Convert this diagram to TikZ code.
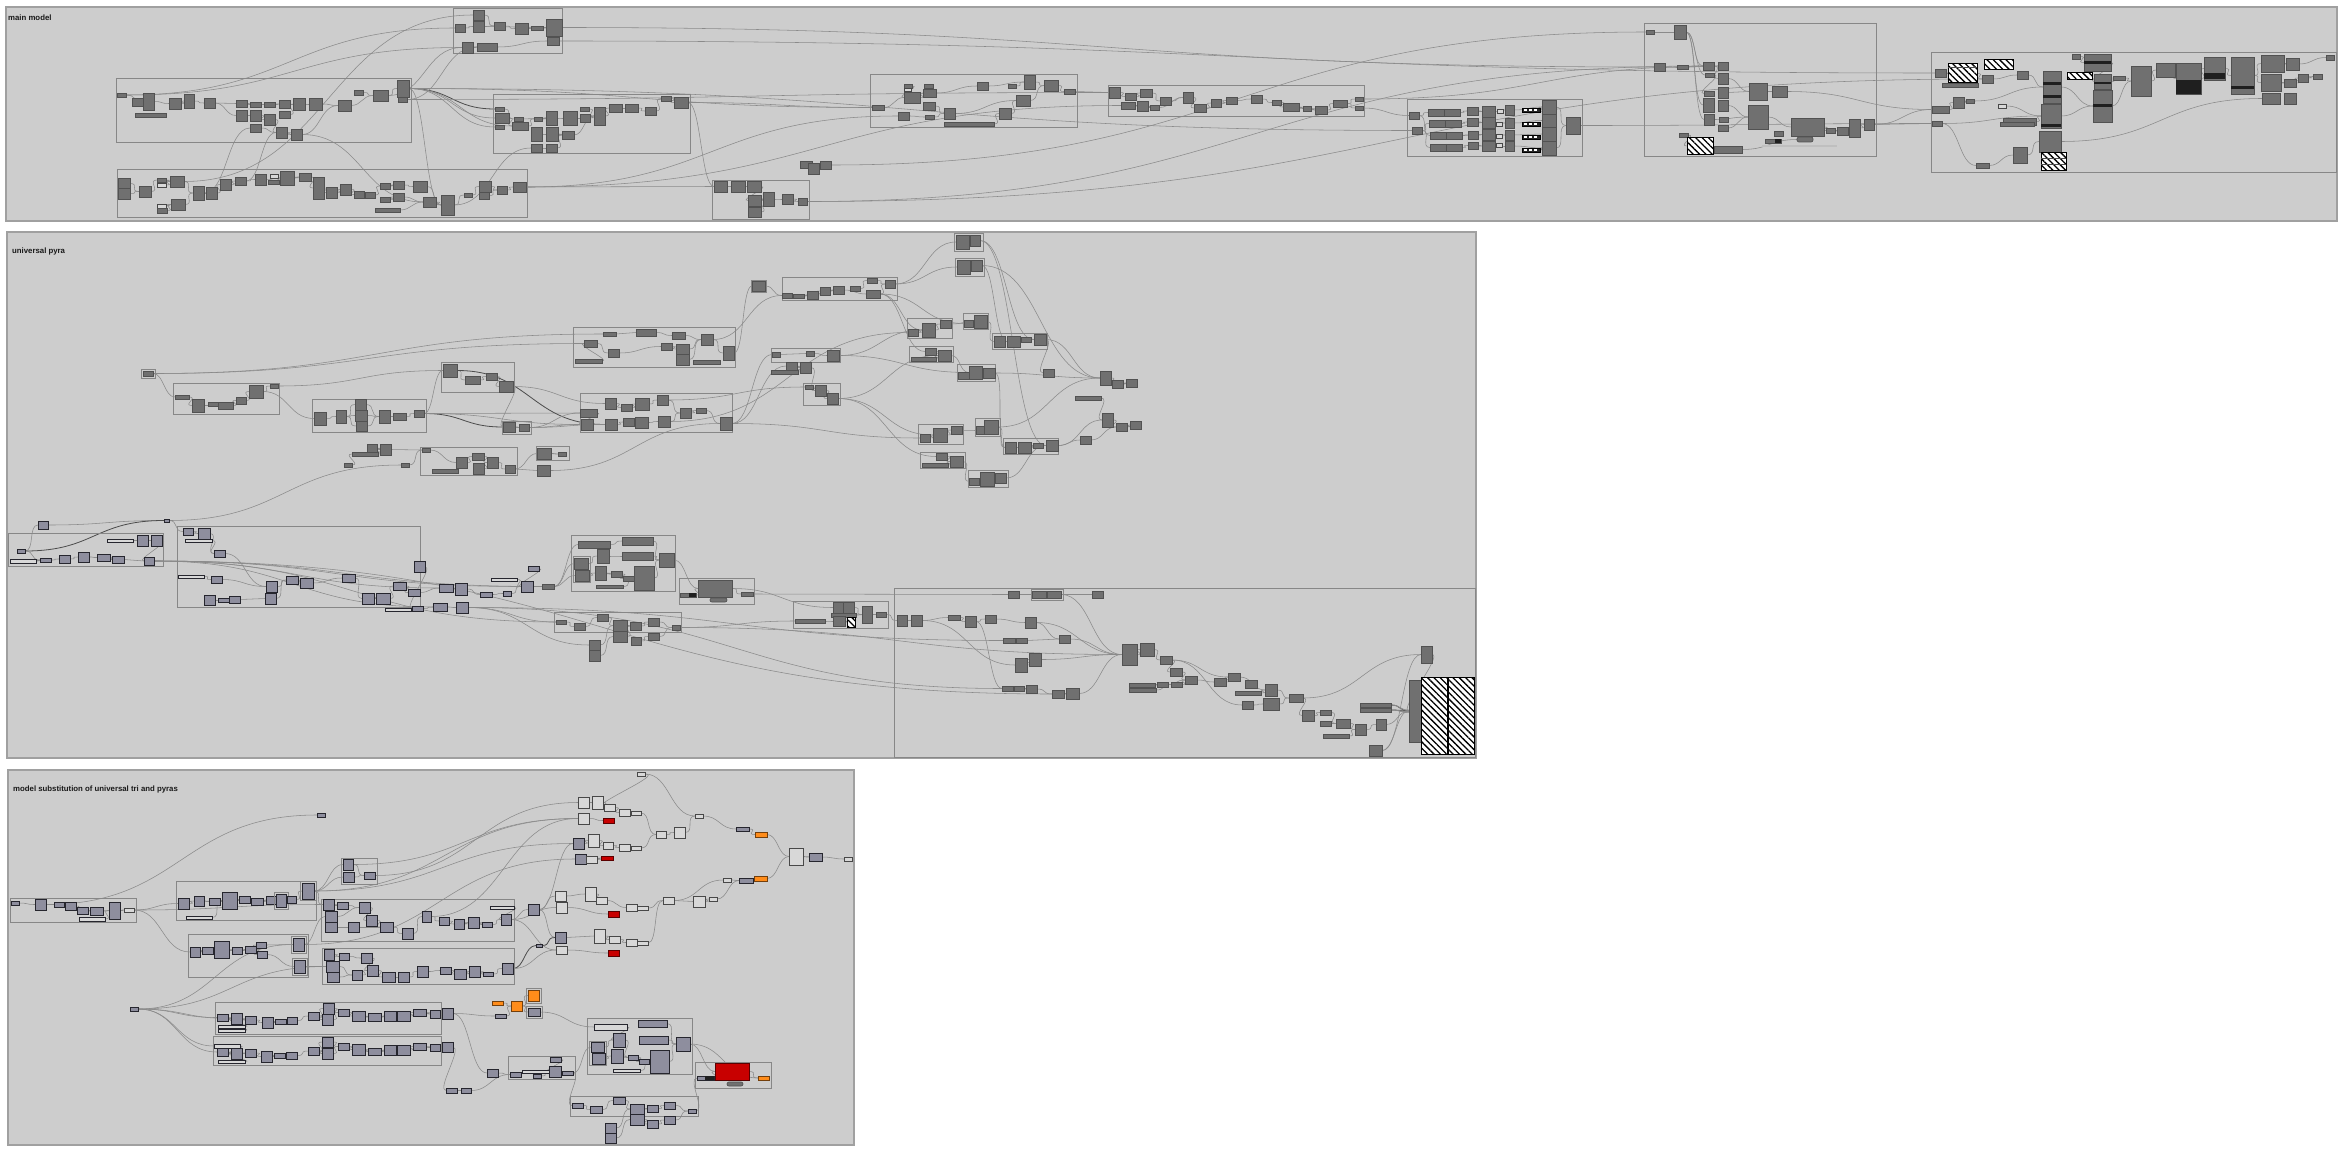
\documentclass[tikz,border=0pt]{standalone}
\usepackage{fontspec}
\setmainfont{Liberation Sans}
\usetikzlibrary{patterns.meta,calc}
\definecolor{pfill}{RGB}{205,205,205}
\definecolor{pedge}{RGB}{160,160,160}
\definecolor{gedge}{RGB}{135,135,135}
\definecolor{cfill}{RGB}{112,112,112}
\definecolor{cedge}{RGB}{82,82,82}
\definecolor{bfill}{RGB}{142,142,158}
\definecolor{bedge}{RGB}{38,38,46}
\definecolor{lfill}{RGB}{216,216,216}
\definecolor{ledge}{RGB}{72,72,72}
\definecolor{rfill}{RGB}{200,0,0}
\definecolor{ofill}{RGB}{255,140,26}
\definecolor{wcol}{RGB}{138,138,138}
\pgfdeclarelayer{panels}
\pgfdeclarelayer{wires}
\pgfsetlayers{panels,wires,main}
\tikzset{
  comp/.style={anchor=north west, inner sep=0pt, outer sep=0pt, draw=cedge, fill=cfill, line width=0.7pt},
  cb/.style={draw=bedge, fill=bfill},
  cl/.style={draw=ledge, fill=lfill},
  cbl/.style={draw=bedge, fill=lfill},
  cr/.style={draw=rfill!45!black, fill=rfill},
  co/.style={draw=ofill!45!black, fill=ofill},
  cdk/.style={draw=black, fill=black!85},
  cround/.style={rounded corners=2pt},
  chat/.style={draw=black, line width=1pt, preaction={fill=white}, pattern={Lines[angle=-45,distance=4.5pt,line width=1.3pt]}},
  grp/.style={draw=gedge, line width=0.9pt},
  panel/.style={draw=pedge, fill=pfill, line width=1.3pt},
  wire/.style={draw=wcol, line width=0.55pt},
  dwire/.style={draw=black!70, line width=0.8pt},
  lbl/.style={anchor=west, inner sep=0pt, font=\fontsize{7.8}{9}\selectfont\bfseries, text=black!90}
}
\newcommand\Cm[6][]{\node[comp,#1,minimum width=#5pt,minimum height=#6pt] (#2) at (#3,#4) {};}
\newcommand\Wp[3][wire]{\draw[#1] let \p1=(#2), \p2=(#3), \n1={max(0.5*abs(\x2-\x1),10)} in (\p1) .. controls +(\n1,0) and +(-\n1,0) .. (\p2);}
\newcommand\Wr[3][wire]{\Wp[#1]{#2.east}{#3.west}}
\newcommand\Gr[4]{\draw[grp] (#1,#2) rectangle (#3,#4);}
\newcommand\Sb[4]{\fill[black!88] (#1,#2) rectangle (#3,#4);}
\newcommand\Wc[2]{\fill[white] (#1+2,#2+1) rectangle (#1+5,#2+3); \fill[white] (#1+7,#2+1) rectangle (#1+10,#2+3); \fill[white] (#1+12,#2+1) rectangle (#1+15,#2+3);}
\begin{document}
\begin{tikzpicture}[x=1pt,y=-1pt]
\useasboundingbox (0,0) rectangle (2347,1153);
\begin{pgfonlayer}{panels}
\fill[white] (0,0) rectangle (2347,1153);
\draw[panel] (6,7) rectangle (2337,221);
\draw[panel] (7,232) rectangle (1476,758);
\draw[panel] (8,770) rectangle (854,1145);
\end{pgfonlayer}
\node[lbl] (lab1) at (8,18) {main model};
\node[lbl] (lab2) at (12,251) {universal pyra};
\node[lbl] (lab3) at (13,789) {model substitution of universal tri and pyras};

% ================= MAIN MODEL =================
\Gr{453}{8}{562}{53}
\Cm{m1}{473}{10}{11}{10}
\Cm{m2}{455}{24}{10}{8}
\Cm{m3}{473}{21}{11}{11}
\Cm{m4}{494}{22}{11}{8}
\Cm{m5}{515}{23}{13}{11}
\Cm{m6}{531}{26}{12}{4}
\Cm{m7}{546}{19}{16}{17}
\Cm{m8}{547}{37}{12}{8}
\Cm{m9}{462}{42}{11}{11}
\Cm{m10}{477}{43}{20}{8}
\Gr{116}{78}{411}{142}
\Cm{m11}{117}{93}{9}{4}
\Cm{m12}{132}{98}{11}{8}
\Cm{m13}{143}{93}{11}{17}
\Cm{m14}{135}{113}{31}{4}
\Cm{m15}{169}{98}{12}{11}
\Cm{m16}{184}{94}{10}{14}
\Cm{m17}{204}{98}{11}{10}
\Cm{m18}{236}{100}{11}{7}
\Cm{m19}{250}{102}{11}{5}
\Cm{m20}{264}{102}{11}{5}
\Cm{m21}{279}{100}{11}{8}
\Cm{m22}{293}{98}{12}{12}
\Cm{m23}{309}{98}{13}{12}
\Cm{m24}{236}{110}{11}{11}
\Cm{m25}{250}{110}{11}{11}
\Cm{m26}{264}{114}{11}{11}
\Cm{m27}{279}{111}{11}{7}
\Cm{m28}{250}{124}{11}{8}
\Cm{m29}{276}{127}{11}{11}
\Cm{m30}{291}{129}{11}{11}
\Cm{m31}{338}{100}{13}{11}
\Cm{m32}{354}{90}{9}{5}
\Cm{m33}{373}{90}{15}{11}
\Cm{m34}{397}{80}{12}{17}
\Cm{m35}{398}{97}{9}{5}
\Gr{493}{94}{690}{153}
\Cm{m36}{495}{107}{9}{4}
\Cm{m37}{495}{113}{14}{10}
\Cm{m38}{495}{125}{9}{4}
\Cm{m39}{512}{122}{16}{8}
\Cm{m40}{514}{117}{9}{4}
\Cm{m41}{534}{117}{8}{4}
\Cm{m42}{546}{111}{11}{14}
\Cm{m43}{563}{111}{14}{14}
\Cm{m44}{580}{114}{10}{8}
\Cm{m45}{580}{107}{9}{4}
\Cm{m46}{594}{107}{11}{18}
\Cm{m47}{609}{104}{13}{8}
\Cm{m48}{625}{104}{13}{8}
\Cm{m49}{645}{107}{11}{8}
\Cm{m50}{661}{96}{10}{5}
\Cm{m51}{674}{97}{14}{11}
\Cm{m52}{531}{127}{11}{14}
\Cm{m53}{546}{127}{12}{14}
\Cm{m54}{562}{131}{12}{8}
\Cm{m55}{531}{144}{11}{8}
\Cm{m56}{546}{144}{11}{8}
\Gr{117}{169}{527}{217}
\Cm{m57}{118}{178}{12}{11}
\Cm{m58}{118}{188}{12}{11}
\Cm{m59}{139}{186}{12}{11}
\Cm{m60}{157}{178}{9}{4}
\Cm[cl]{m61}{157}{183}{9}{4}
\Cm{m62}{170}{176}{14}{11}
\Cm[cl]{m63}{157}{204}{9}{4}
\Cm{m64}{157}{208}{10}{5}
\Cm{m65}{171}{199}{14}{11}
\Cm{m66}{193}{186}{11}{14}
\Cm{m67}{206}{187}{11}{12}
\Cm{m68}{220}{179}{11}{11}
\Cm{m69}{235}{177}{11}{8}
\Cm{m70}{255}{174}{11}{11}
\Cm[cl]{m71}{270}{174}{8}{4}
\Cm{m72}{268}{180}{11}{4}
\Cm{m73}{280}{171}{14}{14}
\Cm{m74}{299}{173}{12}{8}
\Cm{m75}{313}{177}{11}{22}
\Cm{m76}{326}{187}{11}{11}
\Cm{m77}{340}{184}{11}{11}
\Cm{m78}{354}{191}{10}{7}
\Cm{m79}{365}{192}{10}{6}
\Cm{m80}{380}{183}{10}{6}
\Cm{m81}{393}{181}{11}{8}
\Cm{m82}{413}{181}{14}{11}
\Cm{m83}{380}{197}{10}{5}
\Cm{m84}{393}{193}{11}{8}
\Cm{m85}{375}{208}{25}{4}
\Cm{m86}{423}{197}{13}{10}
\Cm{m87}{441}{195}{13}{20}
\Cm{m88}{464}{193}{8}{4}
\Cm{m89}{479}{181}{12}{11}
\Cm{m90}{479}{192}{10}{7}
\Cm{m91}{497}{186}{10}{8}
\Cm{m92}{513}{182}{13}{10}
\Gr{712}{180}{809}{219}
\Cm{m93}{714}{181}{13}{11}
\Cm{m94}{731}{181}{14}{11}
\Cm{m95}{747}{181}{14}{11}
\Cm{m96}{748}{195}{13}{11}
\Cm{m97}{763}{192}{11}{14}
\Cm{m98}{782}{194}{11}{10}
\Cm{m99}{748}{207}{13}{10}
\Cm{m100}{798}{198}{9}{7}
\Cm{m101}{800}{161}{12}{7}
\Cm{m102}{808}{163}{11}{11}
\Cm{m103}{820}{161}{11}{8}
\Gr{870}{74}{1077}{127}
\Cm{m104}{872}{105}{12}{5}
\Cm{m105}{904}{84}{8}{4}
\Cm[cl]{m106}{904}{88}{7}{3}
\Cm{m107}{904}{92}{16}{11}
\Cm{m108}{924}{84}{9}{4}
\Cm{m109}{923}{89}{13}{8}
\Cm{m110}{923}{102}{12}{8}
\Cm{m111}{898}{112}{11}{8}
\Cm{m112}{925}{115}{9}{4}
\Cm{m113}{944}{108}{11}{11}
\Cm{m114}{977}{82}{11}{8}
\Cm{m115}{1008}{84}{8}{4}
\Cm{m116}{1024}{75}{11}{14}
\Cm{m117}{1044}{80}{14}{11}
\Cm{m118}{1016}{95}{14}{11}
\Cm{m119}{999}{108}{12}{11}
\Cm{m120}{1064}{89}{11}{5}
\Cm{m121}{944}{122}{50}{4}
\Gr{1108}{85}{1364}{116}
\Cm{m122}{1109}{87}{11}{11}
\Cm{m123}{1125}{93}{11}{7}
\Cm{m124}{1140}{89}{12}{8}
\Cm{m125}{1121}{102}{14}{7}
\Cm{m126}{1137}{101}{11}{10}
\Cm{m127}{1150}{105}{9}{5}
\Cm{m128}{1160}{97}{11}{8}
\Cm{m129}{1183}{92}{10}{11}
\Cm{m130}{1194}{104}{12}{8}
\Cm{m131}{1211}{99}{10}{8}
\Cm{m132}{1226}{97}{11}{7}
\Cm{m133}{1251}{95}{11}{8}
\Cm{m134}{1272}{100}{9}{5}
\Cm{m135}{1283}{103}{16}{8}
\Cm{m136}{1303}{106}{8}{5}
\Cm{m137}{1315}{106}{12}{8}
\Cm{m138}{1333}{100}{14}{7}
\Cm{m139}{1355}{97}{8}{4}
\Cm{m140}{1355}{106}{8}{4}
\Gr{1407}{99}{1582}{156}
\Cm{m141}{1409}{112}{10}{7}
\Cm{m142}{1412}{127}{10}{7}
\Cm{m143}{1428}{109}{32}{7}
\Cm{m144}{1429}{120}{32}{7}
\Cm{m145}{1430}{132}{32}{7}
\Cm{m146}{1430}{144}{32}{7}
\draw[cedge,line width=0.6pt] (1444,109) -- (1444,116) (1445,120) -- (1445,127) (1446,132) -- (1446,139) (1446,144) -- (1446,151);
\Cm{m147}{1467}{107}{11}{8}
\Cm{m148}{1467}{118}{11}{8}
\Cm{m149}{1468}{131}{10}{8}
\Cm{m150}{1468}{142}{10}{7}
\Cm{m151}{1482}{106}{13}{11}
\Cm{m152}{1482}{117}{13}{11}
\Cm{m153}{1482}{129}{13}{11}
\Cm{m154}{1482}{141}{13}{10}
\Cm[cl]{m155}{1497}{109}{6}{4}
\Cm[cl]{m156}{1496}{122}{6}{4}
\Cm[cl]{m157}{1496}{134}{6}{4}
\Cm[cl]{m158}{1496}{143}{6}{4}
\Cm{m159}{1505}{105}{9}{10}
\Cm{m160}{1505}{118}{9}{10}
\Cm{m161}{1505}{130}{9}{10}
\Cm{m162}{1505}{141}{9}{10}
\Cm[cdk]{m163}{1522}{108}{18}{4}
\Cm[cdk]{m164}{1522}{122}{18}{4}
\Cm[cdk]{m165}{1522}{135}{18}{4}
\Cm[cdk]{m166}{1522}{148}{18}{4}
\Wc{1522}{108}\Wc{1522}{122}\Wc{1522}{135}\Wc{1522}{148}
\Cm{m167}{1542}{100}{14}{14}
\Cm{m168}{1542}{114}{14}{13}
\Cm{m169}{1542}{127}{14}{14}
\Cm{m170}{1542}{141}{14}{14}
\Cm{m171}{1566}{117}{14}{17}
\Gr{1644}{23}{1876}{156}
\Cm{m172}{1646}{30}{8}{4}
\Cm{m173}{1674}{25}{12}{14}
\Cm{m174}{1654}{63}{11}{8}
\Cm{m175}{1677}{65}{11}{4}
\Cm{m176}{1703}{62}{11}{8}
\Cm{m177}{1718}{62}{10}{8}
\Cm{m178}{1705}{73}{9}{4}
\Cm{m179}{1718}{73}{10}{11}
\Cm{m180}{1704}{91}{10}{5}
\Cm{m181}{1718}{87}{10}{11}
\Cm{m182}{1703}{98}{11}{14}
\Cm{m183}{1718}{100}{10}{11}
\Cm{m184}{1704}{114}{10}{11}
\Cm{m185}{1719}{117}{9}{5}
\Cm{m186}{1718}{125}{10}{6}
\Cm{m187}{1749}{83}{18}{17}
\Cm{m188}{1772}{86}{15}{11}
\Cm{m189}{1748}{105}{20}{24}
\Cm{m190}{1679}{133}{9}{4}
\Cm{m191}{1774}{131}{9}{5}
\Cm{m192}{1765}{139}{16}{4}
\Cm[cround]{m193}{1797}{137}{16}{5}
\Cm{m194}{1791}{118}{33}{18}
\Cm{m195}{1826}{128}{9}{5}
\Cm{m196}{1837}{127}{11}{8}
\Cm{m197}{1849}{119}{11}{18}
\Cm{m198}{1864}{119}{10}{11}
\Cm[chat]{m199}{1687}{138}{26}{16}
\Cm{m200}{1714}{146}{28}{7}
\fill[black!25] (1762,145) rectangle (1837,147);
\Gr{1931}{52}{2336}{172}
\Cm{m201}{1935}{69}{11}{8}
\Cm[chat]{m202}{1948}{64}{29}{19}
\Cm{m203}{1942}{83}{36}{4}
\Cm[chat]{m204}{1984}{60}{29}{10}
\Cm{m205}{1982}{75}{11}{8}
\Cm{m206}{2017}{71}{11}{8}
\Cm{m207}{2072}{54}{8}{5}
\Cm{m208}{2084}{54}{27}{17}
\Cm[chat]{m209}{2067}{73}{25}{7}
\Cm{m210}{2043}{71}{18}{32}
\Cm{m211}{2094}{74}{17}{15}
\Cm{m212}{2113}{76}{12}{4}
\Cm{m213}{2093}{90}{19}{32}
\Cm{m214}{2131}{66}{20}{30}
\Cm{m215}{2156}{63}{19}{14}
\Cm{m216}{2176}{63}{25}{31}
\Cm{m217}{2204}{57}{21}{23}
\Cm{m218}{2231}{57}{23}{37}
\Cm{m219}{2261}{55}{23}{17}
\Cm{m220}{2286}{58}{13}{12}
\Cm{m221}{2261}{74}{20}{17}
\Cm{m222}{2284}{79}{12}{8}
\Cm{m223}{2298}{74}{10}{8}
\Cm{m224}{2313}{74}{9}{5}
\Cm{m225}{2326}{55}{8}{5}
\Cm{m226}{2262}{93}{18}{11}
\Cm{m227}{2284}{93}{12}{11}
\Cm{m228}{1932}{106}{17}{7}
\Cm{m229}{1953}{97}{11}{11}
\Cm{m230}{1966}{99}{8}{4}
\Cm{m231}{1932}{121}{10}{5}
\Cm[cl]{m232}{1998}{104}{8}{4}
\Cm{m233}{2003}{118}{33}{7}
\Cm{m234}{2000}{122}{34}{4}
\Cm{m235}{2041}{104}{20}{24}
\Cm{m236}{2039}{131}{22}{21}
\Cm[chat]{m237}{2041}{152}{25}{18}
\Cm{m238}{2013}{147}{14}{16}
\Cm{m239}{1976}{163}{13}{5}
\Sb{2084}{61}{2111}{64}
\Sb{2043}{82}{2061}{85}
\Sb{2043}{95}{2061}{98}
\Sb{2094}{82}{2111}{84}
\Sb{2093}{104}{2112}{107}
\Sb{2176}{80}{2201}{94}
\Sb{2204}{73}{2225}{79}
\Sb{2231}{86}{2254}{89}
\Sb{2041}{124}{2061}{127}
\Sb{1775}{139}{1781}{143}
\draw[black!70,line width=0.8pt] (1948,67) -- (1977,67);
\draw[black!70,line width=0.6pt] (2041,158) -- (2066,158) (2041,164) -- (2066,164);

% ================= UNIVERSAL PYRA =================
\Gr{141}{369}{155}{378}
\Cm{u1}{143}{371}{10}{5}
\Gr{173}{383}{279}{414}
\Cm{u2}{175}{395}{14}{4}
\Cm{u3}{192}{399}{12}{13}
\Cm{u4}{208}{402}{10}{4}
\Cm{u5}{218}{402}{15}{7}
\Cm{u6}{236}{397}{10}{7}
\Cm{u7}{249}{385}{14}{13}
\Cm{u8}{270}{384}{8}{4}
\Gr{441}{362}{514}{392}
\Cm{u9}{443}{364}{14}{13}
\Cm{u10}{465}{376}{15}{8}
\Cm{u11}{486}{373}{11}{7}
\Cm{u12}{499}{381}{14}{11}
\Gr{312}{399}{426}{432}
\Cm{u13}{314}{412}{12}{13}
\Cm{u14}{336}{410}{10}{13}
\Cm{u15}{355}{399}{11}{11}
\Cm{u16}{355}{410}{12}{11}
\Cm{u17}{356}{421}{11}{10}
\Cm{u18}{379}{410}{11}{13}
\Cm{u19}{393}{413}{13}{7}
\Cm{u20}{414}{410}{10}{7}
\Gr{573}{327}{735}{367}
\Cm{u21}{603}{332}{13}{4}
\Cm{u22}{636}{329}{20}{7}
\Cm{u23}{672}{332}{13}{7}
\Cm{u24}{584}{340}{13}{7}
\Cm{u25}{608}{349}{11}{8}
\Cm{u26}{661}{343}{11}{7}
\Cm{u27}{676}{344}{13}{10}
\Cm{u28}{676}{354}{13}{11}
\Cm{u29}{701}{334}{12}{11}
\Cm{u30}{723}{346}{11}{14}
\Cm{u31}{575}{359}{27}{4}
\Cm{u32}{693}{360}{27}{4}
\Gr{580}{393}{732}{432}
\Cm{u33}{605}{398}{11}{11}
\Cm{u34}{621}{404}{11}{7}
\Cm{u35}{635}{398}{14}{12}
\Cm{u36}{657}{395}{11}{10}
\Cm{u37}{580}{409}{17}{8}
\Cm{u38}{581}{419}{12}{11}
\Cm{u39}{605}{419}{12}{11}
\Cm{u40}{623}{418}{11}{8}
\Cm{u41}{635}{417}{13}{11}
\Cm{u42}{658}{416}{12}{11}
\Cm{u43}{680}{408}{11}{10}
\Cm{u44}{696}{408}{10}{5}
\Cm{u45}{720}{417}{12}{13}
\Gr{502}{421}{531}{434}
\Cm{u46}{503}{422}{12}{10}
\Cm{u47}{519}{424}{10}{7}
\Cm{u48}{367}{444}{10}{8}
\Cm{u49}{380}{444}{11}{11}
\Cm{u50}{352}{452}{26}{4}
\Cm{u51}{344}{463}{8}{4}
\Cm{u52}{401}{463}{8}{4}
\Gr{420}{447}{517}{475}
\Cm{u53}{422}{448}{8}{4}
\Cm{u54}{456}{457}{11}{11}
\Cm{u55}{472}{453}{12}{7}
\Cm{u56}{473}{463}{11}{11}
\Cm{u57}{487}{457}{11}{11}
\Cm{u58}{505}{465}{10}{8}
\Cm{u59}{432}{469}{26}{4}
\Gr{536}{446}{569}{460}
\Cm{u60}{537}{448}{14}{11}
\Cm{u61}{558}{452}{8}{4}
\Cm{u62}{537}{465}{13}{11}
\Gr{751}{280}{766}{292}
\Cm{u63}{752}{281}{13}{10}
\Gr{782}{277}{897}{300}
\Cm{u64}{782}{293}{10}{5}
\Cm{u65}{793}{294}{11}{4}
\Cm{u66}{807}{291}{11}{8}
\Cm{u67}{820}{287}{10}{8}
\Cm{u68}{833}{286}{11}{8}
\Cm{u69}{850}{286}{10}{5}
\Cm{u70}{866}{290}{14}{8}
\Cm{u71}{867}{278}{10}{5}
\Cm{u72}{885}{280}{10}{8}
\Gr{954}{233}{983}{251}
\Cm{u73}{956}{235}{13}{14}
\Cm{u74}{970}{235}{10}{11}
\Gr{955}{258}{984}{276}
\Cm{u75}{957}{260}{13}{14}
\Cm{u76}{971}{260}{11}{11}
\Gr{907}{318}{952}{338}
\Cm{u77}{908}{329}{10}{7}
\Cm{u78}{922}{323}{13}{14}
\Cm{u79}{940}{320}{11}{8}
\Gr{963}{313}{988}{329}
\Cm{u80}{964}{320}{9}{7}
\Cm{u81}{974}{315}{13}{13}
\Gr{992}{333}{1047}{349}
\Cm{u82}{994}{336}{11}{11}
\Cm{u83}{1007}{336}{13}{11}
\Cm{u84}{1021}{337}{10}{5}
\Cm{u85}{1034}{334}{12}{11}
\Gr{771}{348}{840}{362}
\Cm{u86}{772}{352}{8}{5}
\Cm{u87}{806}{351}{8}{5}
\Cm{u88}{827}{350}{12}{11}
\Cm{u89}{786}{362}{11}{8}
\Cm{u90}{800}{362}{11}{11}
\Cm{u91}{771}{370}{27}{4}
\Gr{909}{346}{953}{362}
\Cm{u92}{925}{348}{11}{7}
\Cm{u93}{938}{350}{13}{11}
\Cm{u94}{911}{357}{25}{4}
\Gr{957}{364}{995}{381}
\Cm{u95}{958}{372}{11}{7}
\Cm{u96}{969}{366}{13}{13}
\Cm{u97}{983}{368}{12}{10}
\Cm{u98}{1043}{369}{11}{8}
\Gr{803}{383}{840}{405}
\Cm{u99}{805}{385}{8}{4}
\Cm{u100}{815}{385}{11}{11}
\Cm{u101}{827}{393}{11}{11}
\Cm{u102}{1100}{371}{11}{14}
\Cm{u103}{1112}{380}{11}{8}
\Cm{u104}{1126}{379}{11}{8}
\Cm{u105}{1075}{396}{26}{4}
\Cm{u106}{1102}{413}{11}{14}
\Cm{u107}{1116}{423}{11}{8}
\Cm{u108}{1130}{421}{11}{8}
\Cm{u109}{1080}{436}{11}{8}
\Gr{918}{424}{963}{444}
\Cm{u110}{920}{434}{10}{8}
\Cm{u111}{933}{428}{14}{14}
\Cm{u112}{951}{426}{11}{8}
\Gr{975}{418}{1000}{436}
\Cm{u113}{976}{426}{9}{8}
\Cm{u114}{984}{420}{14}{14}
\Gr{1003}{438}{1058}{454}
\Cm{u115}{1005}{442}{11}{11}
\Cm{u116}{1018}{442}{13}{11}
\Cm{u117}{1033}{443}{10}{5}
\Cm{u118}{1046}{440}{12}{11}
\Gr{920}{452}{965}{468}
\Cm{u119}{936}{453}{11}{7}
\Cm{u120}{950}{456}{13}{11}
\Cm{u121}{922}{463}{26}{4}
\Gr{968}{470}{1008}{487}
\Cm{u122}{969}{478}{10}{7}
\Cm{u123}{980}{472}{14}{14}
\Cm{u124}{995}{473}{11}{10}
% lower pyra
\Cm[cb]{u125}{38}{521}{10}{8}
\Cm[cb]{u126}{164}{519}{5}{3}
\Gr{8}{533}{163}{566}
\Cm[cb]{u127}{17}{549}{8}{4}
\Cm[cbl]{u128}{10}{559}{26}{4}
\Cm[cb]{u129}{40}{558}{11}{4}
\Cm[cb]{u130}{59}{555}{11}{8}
\Cm[cb]{u131}{78}{552}{11}{10}
\Cm[cb]{u132}{97}{554}{13}{7}
\Cm[cb]{u133}{112}{556}{12}{7}
\Cm[cb]{u134}{144}{557}{10}{8}
\Cm[cbl]{u135}{107}{539}{26}{3}
\Cm[cb]{u136}{137}{535}{11}{11}
\Cm[cb]{u137}{151}{535}{11}{11}
\Gr{177}{526}{420}{607}
\Cm[cb]{u138}{183}{528}{10}{7}
\Cm[cb]{u139}{198}{528}{12}{11}
\Cm[cbl]{u140}{185}{539}{27}{3}
\Cm[cb]{u141}{214}{550}{11}{7}
\Cm[cbl]{u142}{178}{575}{26}{3}
\Cm[cb]{u143}{211}{576}{11}{7}
\Cm[cb]{u144}{204}{595}{11}{10}
\Cm[cb]{u145}{218}{598}{11}{4}
\Cm[cb]{u146}{229}{596}{11}{7}
\Cm[cb]{u147}{266}{581}{11}{11}
\Cm[cb]{u148}{265}{593}{11}{11}
\Cm[cb]{u149}{286}{576}{12}{8}
\Cm[cb]{u150}{300}{578}{13}{10}
\Cm[cb]{u151}{342}{574}{13}{8}
\Cm[cb]{u152}{362}{593}{12}{11}
\Cm[cb]{u153}{376}{593}{14}{11}
\Cm[cb]{u154}{393}{582}{13}{8}
\Cm[cb]{u155}{408}{589}{12}{7}
\Cm[cb]{u156}{414}{561}{11}{11}
\Cm[cbl]{u157}{385}{608}{26}{3}
\Cm[cb]{u158}{412}{606}{11}{5}
\Cm[cb]{u159}{433}{603}{14}{8}
\Cm[cb]{u160}{456}{602}{12}{11}
\Cm[cb]{u161}{439}{584}{14}{8}
\Cm[cb]{u162}{455}{583}{12}{12}
\Cm[cb]{u163}{480}{592}{12}{5}
\Cm[cb]{u164}{503}{591}{8}{5}
\Cm[cbl]{u165}{491}{578}{26}{3}
\Cm[cb]{u166}{521}{581}{12}{11}
\Cm[cb]{u167}{528}{566}{11}{5}
\Cm{u168}{542}{584}{12}{5}
\Gr{571}{535}{675}{591}
\Cm{u169}{578}{541}{32}{7}
\Cm{u170}{622}{537}{31}{8}
\Cm{u171}{622}{552}{31}{8}
\Gr{573}{556}{590}{582}
\Cm{u172}{574}{558}{14}{11}
\Cm{u173}{575}{570}{14}{11}
\Cm{u174}{597}{549}{12}{14}
\Cm{u175}{595}{566}{11}{14}
\Cm{u176}{611}{571}{11}{6}
\Cm{u177}{623}{576}{11}{5}
\Cm{u178}{634}{566}{20}{24}
\Cm{u179}{659}{553}{15}{14}
\Cm{u180}{596}{585}{27}{3}
\Gr{679}{578}{754}{604}
\Cm{u181}{680}{593}{16}{4}
\Sb{689}{593}{696}{597}
\Cm{u182}{698}{580}{34}{17}
\Cm[cround]{u183}{710}{598}{17}{4}
\Cm{u184}{741}{592}{12}{4}
\Gr{554}{612}{681}{632}
\Cm{u185}{556}{620}{10}{4}
\Cm{u186}{574}{623}{11}{7}
\Cm{u187}{597}{614}{11}{7}
\Cm{u188}{613}{620}{14}{11}
\Cm{u189}{613}{631}{14}{11}
\Cm{u190}{630}{622}{11}{8}
\Cm{u191}{648}{618}{11}{8}
\Cm{u192}{648}{633}{11}{7}
\Cm{u193}{631}{637}{10}{8}
\Cm{u194}{672}{625}{8}{5}
\Cm{u195}{589}{640}{11}{10}
\Cm{u196}{589}{650}{11}{11}
\Gr{793}{601}{888}{628}
\Cm{u197}{795}{619}{30}{4}
\Cm{u198}{833}{602}{10}{11}
\Cm{u199}{843}{602}{11}{11}
\Cm{u200}{831}{613}{25}{4}
\Cm{u201}{833}{616}{12}{10}
\Cm[chat]{u202}{847}{617}{8}{10}
\Cm{u203}{862}{606}{10}{17}
\Cm{u204}{876}{612}{10}{5}
\Gr{894}{588}{1475}{757}
\Cm{u205}{897}{615}{10}{11}
\Cm{u206}{911}{615}{11}{11}
\Cm{u207}{948}{615}{12}{5}
\Cm{u208}{965}{616}{11}{11}
\Cm{u209}{985}{615}{11}{8}
\Cm{u210}{1008}{591}{11}{7}
\Gr{1031}{589}{1063}{600}
\Cm{u211}{1032}{591}{14}{7}
\Cm{u211b}{1047}{591}{14}{7}
\Cm{u212}{1092}{591}{11}{7}
\Cm{u213}{1025}{617}{11}{11}
\Cm{u214}{1003}{638}{12}{5}
\Cm{u215}{1016}{638}{11}{5}
\Cm{u216}{1059}{635}{11}{8}
\Cm{u217}{1015}{658}{12}{14}
\Cm{u218}{1029}{653}{12}{13}
\Cm{u219}{1002}{686}{11}{5}
\Cm{u220}{1014}{686}{10}{5}
\Cm{u221}{1026}{685}{11}{8}
\Cm{u222}{1052}{690}{12}{8}
\Cm{u223}{1066}{688}{13}{11}
\Cm{u224}{1122}{644}{15}{21}
\Cm{u225}{1140}{643}{14}{13}
\Cm{u226}{1160}{656}{12}{8}
\Cm{u227}{1170}{668}{12}{8}
\Cm{u228}{1185}{676}{12}{8}
\Cm{u229}{1214}{678}{12}{8}
\Cm{u230}{1228}{673}{12}{8}
\Cm{u231}{1245}{680}{12}{8}
\Cm{u232}{1129}{683}{26}{4}
\Cm{u233}{1129}{688}{27}{4}
\Cm{u234}{1157}{682}{11}{5}
\Cm{u235}{1171}{682}{11}{5}
\Cm{u236}{1265}{684}{12}{12}
\Cm{u237}{1235}{691}{26}{4}
\Cm{u238}{1242}{701}{11}{8}
\Cm{u239}{1263}{698}{16}{12}
\Cm{u240}{1289}{694}{14}{8}
\Cm{u241}{1302}{710}{12}{11}
\Cm{u242}{1320}{710}{11}{5}
\Cm{u243}{1320}{721}{11}{5}
\Cm{u244}{1336}{719}{14}{9}
\Cm{u245}{1355}{724}{11}{11}
\Cm{u246}{1376}{719}{10}{11}
\Cm{u247}{1323}{734}{26}{4}
\Cm{u248}{1360}{703}{31}{4}
\Cm{u249}{1360}{708}{31}{4}
\Cm{u250}{1369}{745}{13}{11}
\Cm{u251}{1421}{646}{11}{17}
\Cm{u252}{1409}{680}{12}{62}
\Cm[chat]{u253}{1421}{677}{26}{77}
\Cm[chat]{u254}{1448}{677}{26}{77}

% ================= MODEL SUBSTITUTION =================
\Cm[cb]{s1}{317}{813}{8}{4}
\Gr{10}{898}{136}{922}
\Cm[cb]{s2}{11}{901}{8}{4}
\Cm[cb]{s3}{35}{899}{11}{11}
\Cm[cb]{s4}{54}{902}{10}{5}
\Cm[cb]{s5}{65}{902}{11}{8}
\Cm[cb]{s6}{77}{907}{11}{7}
\Cm[cb]{s7}{90}{907}{13}{8}
\Cm[cb]{s8}{109}{902}{11}{17}
\Cm[cl]{s9}{124}{908}{10}{4}
\Cm[cbl]{s10}{79}{917}{26}{4}
\Gr{176}{881}{316}{920}
\Cm[cb]{s11}{178}{898}{11}{11}
\Cm[cb]{s12}{194}{896}{10}{10}
\Cm[cb]{s13}{209}{898}{11}{7}
\Cm[cb]{s14}{222}{892}{15}{17}
\Cm[cb]{s15}{239}{896}{11}{7}
\Cm[cb]{s16}{251}{898}{12}{7}
\Cm[cb]{s17}{266}{896}{10}{8}
\Gr{274}{892}{288}{909}
\Cm[cb]{s18}{276}{894}{10}{13}
\Cm[cb]{s19}{287}{896}{9}{7}
\Gr{300}{881}{316}{900}
\Cm[cb]{s20}{302}{883}{12}{16}
\Cm[cbl]{s21}{186}{916}{26}{3}
\Gr{341}{858}{377}{884}
\Cm[cb]{s22}{343}{859}{10}{11}
\Cm[cb]{s23}{343}{872}{11}{10}
\Cm[cb]{s24}{364}{872}{11}{7}
\Gr{188}{934}{308}{977}
\Cm[cb]{s25}{190}{947}{10}{10}
\Cm[cb]{s26}{202}{947}{11}{7}
\Cm[cb]{s27}{214}{941}{15}{17}
\Cm[cb]{s28}{232}{947}{10}{7}
\Cm[cb]{s29}{245}{946}{11}{7}
\Cm[cb]{s30}{256}{942}{10}{6}
\Cm[cb]{s31}{257}{951}{10}{7}
\Gr{291}{936}{306}{953}
\Cm[cb]{s32}{293}{938}{11}{13}
\Gr{292}{958}{307}{975}
\Cm[cb]{s33}{294}{960}{11}{13}
\Gr{321}{899}{514}{941}
\Cm[cb]{s34}{323}{899}{11}{11}
\Cm[cb]{s35}{325}{911}{12}{11}
\Cm[cb]{s36}{325}{922}{12}{10}
\Cm[cb]{s37}{337}{902}{11}{7}
\Cm[cb]{s38}{359}{902}{11}{11}
\Cm[cb]{s39}{348}{922}{11}{10}
\Cm[cb]{s40}{366}{915}{11}{11}
\Cm[cb]{s41}{380}{922}{13}{10}
\Cm[cb]{s42}{402}{928}{11}{11}
\Cm[cb]{s43}{422}{911}{9}{11}
\Cm[cb]{s44}{439}{917}{10}{8}
\Cm[cb]{s45}{454}{919}{10}{10}
\Cm[cb]{s46}{468}{917}{11}{11}
\Cm[cb]{s47}{482}{922}{10}{5}
\Cm[cb]{s48}{501}{914}{10}{11}
\Cm[cbl]{s49}{490}{906}{24}{3}
\Cm[cb]{s50}{528}{904}{11}{11}
\Gr{322}{948}{514}{984}
\Cm[cb]{s51}{324}{949}{10}{11}
\Cm[cb]{s52}{339}{953}{10}{7}
\Cm[cb]{s53}{361}{953}{11}{10}
\Cm[cb]{s54}{326}{961}{13}{11}
\Cm[cb]{s55}{327}{972}{12}{10}
\Cm[cb]{s56}{352}{970}{10}{10}
\Cm[cb]{s57}{367}{965}{11}{11}
\Cm[cb]{s58}{382}{972}{13}{10}
\Cm[cb]{s59}{398}{972}{11}{10}
\Cm[cb]{s60}{417}{966}{11}{11}
\Cm[cb]{s61}{440}{967}{11}{7}
\Cm[cb]{s62}{454}{969}{12}{10}
\Cm[cb]{s63}{469}{966}{11}{11}
\Cm[cb]{s64}{483}{972}{10}{4}
\Cm[cb]{s65}{502}{963}{11}{11}
\Gr{215}{1002}{441}{1034}
\Cm[cb]{s66}{217}{1014}{11}{7}
\Cm[cb]{s67}{231}{1013}{11}{11}
\Cm[cb]{s68}{245}{1016}{11}{8}
\Cm[cb]{s69}{262}{1017}{11}{11}
\Cm[cb]{s70}{275}{1019}{11}{5}
\Cm[cb]{s71}{287}{1017}{10}{7}
\Cm[cb]{s72}{308}{1012}{11}{8}
\Cm[cb]{s73}{323}{1003}{11}{11}
\Cm[cb]{s74}{322}{1014}{11}{11}
\Cm[cb]{s75}{338}{1009}{11}{7}
\Cm[cb]{s76}{352}{1011}{13}{10}
\Cm[cb]{s77}{368}{1013}{13}{8}
\Cm[cb]{s78}{384}{1011}{12}{10}
\Cm[cb]{s79}{397}{1011}{13}{10}
\Cm[cb]{s80}{413}{1009}{13}{7}
\Cm[cb]{s81}{430}{1010}{10}{8}
\Cm[cb]{s82}{442}{1008}{11}{11}
\Cm[cbl]{s83}{218}{1025}{27}{3}
\Cm[cbl]{s84}{218}{1029}{27}{3}
\Gr{213}{1036}{441}{1065}
\Cm[cbl]{s85}{214}{1044}{26}{4}
\Cm[cb]{s86}{217}{1048}{11}{8}
\Cm[cb]{s87}{231}{1048}{11}{11}
\Cm[cb]{s88}{245}{1049}{11}{8}
\Cm[cb]{s89}{261}{1051}{11}{11}
\Cm[cb]{s90}{274}{1053}{11}{5}
\Cm[cb]{s91}{286}{1052}{11}{7}
\Cm[cb]{s92}{308}{1047}{11}{8}
\Cm[cb]{s93}{322}{1037}{11}{10}
\Cm[cb]{s94}{322}{1048}{11}{11}
\Cm[cb]{s95}{338}{1043}{11}{7}
\Cm[cb]{s96}{352}{1044}{13}{11}
\Cm[cb]{s97}{368}{1048}{13}{7}
\Cm[cb]{s98}{384}{1045}{12}{10}
\Cm[cb]{s99}{397}{1045}{13}{10}
\Cm[cb]{s100}{413}{1043}{13}{7}
\Cm[cb]{s101}{430}{1044}{10}{7}
\Cm[cb]{s102}{442}{1042}{11}{10}
\Cm[cbl]{s103}{218}{1060}{27}{3}
\Cm[cb]{s104}{130}{1007}{8}{4}
\Cm[cl]{s105}{637}{772}{8}{4}
\Cm[cl]{s106}{578}{797}{11}{11}
\Cm[cl]{s107}{592}{796}{11}{13}
\Cm[cl]{s108}{604}{804}{11}{7}
\Cm[cl]{s109}{578}{813}{11}{11}
\Cm[cr]{s110}{603}{818}{11}{5}
\Cm[cl]{s111}{619}{809}{11}{7}
\Cm[cl]{s112}{631}{811}{10}{4}
\Cm[cl]{s113}{656}{831}{10}{7}
\Cm[cl]{s114}{674}{827}{11}{11}
\Cm[cl]{s115}{695}{814}{8}{4}
\Cm[cb]{s116}{736}{827}{13}{4}
\Cm[co]{s117}{755}{832}{12}{5}
\Cm[cl]{s118}{789}{848}{14}{17}
\Cm[cb]{s119}{809}{853}{13}{8}
\Cm[cl]{s120}{844}{857}{8}{4}
\Cm[cb]{s121}{573}{838}{11}{11}
\Cm[cl]{s122}{588}{834}{11}{13}
\Cm[cl]{s123}{603}{842}{10}{7}
\Cm[cb]{s124}{575}{854}{11}{10}
\Cm[cl]{s125}{586}{856}{11}{7}
\Cm[cr]{s126}{601}{856}{12}{4}
\Cm[cl]{s127}{619}{844}{11}{7}
\Cm[cl]{s128}{631}{846}{10}{4}
\Cm[cl]{s129}{723}{878}{8}{4}
\Cm[cb]{s130}{739}{878}{14}{5}
\Cm[co]{s131}{754}{876}{13}{5}
\Cm[cl]{s132}{555}{891}{11}{10}
\Cm[cl]{s133}{585}{887}{11}{14}
\Cm[cl]{s134}{596}{897}{11}{7}
\Cm[cl]{s135}{556}{902}{11}{11}
\Cm[cr]{s136}{608}{911}{11}{6}
\Cm[cl]{s137}{626}{904}{11}{7}
\Cm[cl]{s138}{637}{906}{11}{4}
\Cm[cl]{s139}{663}{897}{11}{7}
\Cm[cl]{s140}{693}{896}{12}{11}
\Cm[cl]{s141}{709}{897}{8}{4}
\Cm[cb]{s142}{555}{932}{11}{11}
\Cm[cl]{s143}{594}{929}{11}{14}
\Cm[cl]{s144}{609}{936}{11}{7}
\Cm[cl]{s145}{556}{946}{11}{8}
\Cm[cb]{s146}{536}{944}{6}{3}
\Cm[cr]{s147}{608}{950}{11}{6}
\Cm[cl]{s148}{626}{939}{11}{7}
\Cm[cl]{s149}{637}{941}{11}{4}
\Cm[co]{s150}{492}{1001}{11}{4}
\Cm[co]{s151}{511}{1001}{11}{10}
\Gr{526}{988}{541}{1003}
\Cm[co]{s152}{528}{990}{11}{11}
\Gr{526}{1006}{542}{1018}
\Cm[cb]{s153}{528}{1008}{12}{8}
\Cm[cb]{s154}{495}{1014}{11}{4}
\Gr{508}{1056}{575}{1079}
\Cm[cb]{s155}{510}{1072}{11}{5}
\Cm[cbl]{s156}{522}{1070}{27}{3}
\Cm[cb]{s157}{533}{1074}{8}{4}
\Cm[cb]{s158}{550}{1057}{11}{5}
\Cm[cb]{s159}{549}{1066}{12}{11}
\Cm[cb]{s160}{562}{1071}{11}{4}
\Cm[cb]{s161}{487}{1069}{11}{8}
\Cm[cb]{s162}{446}{1088}{11}{5}
\Cm[cb]{s163}{461}{1088}{10}{5}
\Gr{587}{1018}{692}{1074}
\Cm[cbl]{s164}{594}{1024}{33}{6}
\Cm[cb]{s165}{638}{1020}{29}{7}
\Cm[cb]{s166}{639}{1036}{29}{8}
\Cm[cb]{s167}{676}{1037}{14}{14}
\Gr{589}{1041}{606}{1065}
\Cm[cb]{s168}{591}{1042}{13}{10}
\Cm[cb]{s169}{592}{1053}{13}{11}
\Cm[cb]{s170}{613}{1033}{12}{14}
\Cm[cb]{s171}{611}{1049}{12}{14}
\Cm[cb]{s172}{628}{1055}{10}{5}
\Cm[cb]{s173}{639}{1059}{10}{5}
\Cm[cb]{s174}{650}{1050}{19}{23}
\Cm[cbl]{s175}{613}{1069}{27}{3}
\Gr{695}{1062}{771}{1088}
\Cm[cr]{s176}{715}{1063}{34}{17}
\Cm[cb]{s177}{697}{1076}{17}{4}
\Sb{705}{1076}{714}{1080}
\Cm[co]{s178}{758}{1076}{11}{4}
\Cm[cround]{s179}{727}{1082}{16}{4}
\Gr{570}{1096}{698}{1116}
\Cm[cb]{s180}{572}{1103}{11}{5}
\Cm[cb]{s181}{590}{1106}{12}{7}
\Cm[cb]{s182}{613}{1097}{12}{7}
\Cm[cb]{s183}{630}{1104}{14}{10}
\Cm[cb]{s184}{630}{1114}{14}{11}
\Cm[cb]{s185}{647}{1105}{11}{7}
\Cm[cb]{s186}{664}{1102}{11}{7}
\Cm[cb]{s187}{647}{1120}{11}{8}
\Cm[cb]{s188}{664}{1116}{11}{8}
\Cm[cb]{s189}{688}{1109}{8}{4}
\Cm[cb]{s190}{605}{1123}{11}{10}
\Cm[cb]{s191}{605}{1133}{11}{10}

% ================= WIRES =================
\begin{pgfonlayer}{wires}
% main model
\Wr{m11}{m13}\Wr{m12}{m13}\Wr{m13}{m15}\Wr{m15}{m16}\Wr{m16}{m17}\Wr{m17}{m18}\Wr{m17}{m24}
\Wr{m18}{m19}\Wr{m19}{m20}\Wr{m20}{m21}\Wr{m21}{m22}\Wr{m22}{m23}\Wr{m23}{m31}\Wr{m24}{m25}
\Wr{m25}{m26}\Wr{m26}{m29}\Wr{m27}{m22}\Wr{m28}{m29}\Wr{m29}{m30}\Wr{m30}{m31}\Wr{m31}{m33}
\Wr{m32}{m33}\Wr{m33}{m34}
\Wr[dwire]{m34}{m36}\Wr{m34}{m37}\Wr{m34}{m38}\Wr{m34}{m39}\Wr{m34}{m104}\Wr{m34}{m142}\Wr{m35}{m122}
\Wr{m11}{m2}\Wr{m11}{m9}\Wr{m33}{m9}\Wr{m35}{m10}
\Wr{m2}{m3}\Wr{m1}{m4}\Wr{m3}{m4}\Wr{m4}{m5}\Wr{m5}{m6}\Wr{m6}{m7}\Wr{m9}{m10}\Wr{m10}{m8}\Wr{m3}{m7}
\Wr{m7}{m174}\Wr{m8}{m201}
\Wr{m36}{m40}\Wr{m37}{m39}\Wr{m39}{m41}\Wr{m40}{m42}\Wr{m41}{m42}\Wr{m42}{m43}\Wr{m43}{m44}
\Wr{m44}{m46}\Wr{m45}{m46}\Wr{m46}{m47}\Wr{m47}{m48}\Wr{m48}{m49}\Wr{m49}{m50}\Wr{m50}{m51}
\Wr{m53}{m54}\Wr{m52}{m53}\Wr{m54}{m46}\Wr{m55}{m56}\Wr{m56}{m54}
\Wr{m51}{m93}\Wr{m51}{m104}
\Wr{m57}{m59}\Wr{m58}{m59}\Wr{m59}{m60}\Wr{m60}{m62}\Wr{m61}{m62}\Wr{m62}{m66}\Wr{m63}{m65}
\Wr{m64}{m65}\Wr{m65}{m66}\Wr{m66}{m67}\Wr{m67}{m68}\Wr{m68}{m69}\Wr{m69}{m70}\Wr{m70}{m73}
\Wr{m72}{m73}\Wr{m73}{m74}\Wr{m74}{m75}\Wr{m75}{m76}\Wr{m76}{m77}\Wr{m77}{m78}\Wr{m78}{m79}
\Wr{m79}{m80}\Wr{m80}{m81}\Wr{m81}{m82}\Wr{m83}{m84}\Wr{m84}{m86}\Wr{m85}{m86}\Wr{m82}{m87}
\Wr{m86}{m87}\Wr{m87}{m88}\Wr{m88}{m89}\Wr{m89}{m91}\Wr{m90}{m91}\Wr{m91}{m92}\Wr{m92}{m93}
\Wr{m62}{m1}\Wr{m66}{m28}\Wr{m69}{m29}\Wr{m30}{m86}\Wr{m34}{m87}\Wr{m87}{m55}
\Wr{m92}{m111}\Wr{m92}{m125}
\Wr{m93}{m94}\Wr{m94}{m95}\Wr{m95}{m96}\Wr{m96}{m97}\Wr{m97}{m98}\Wr{m98}{m100}\Wr{m99}{m97}
\Wr{m100}{m176}\Wr{m100}{m205}\Wr{m103}{m172}\Wr{m102}{m103}\Wr{m101}{m102}
\Wr{m104}{m107}\Wr{m105}{m107}\Wr{m107}{m109}\Wr{m109}{m114}\Wr{m110}{m113}\Wr{m111}{m112}
\Wr{m112}{m113}\Wr{m113}{m118}\Wr{m114}{m116}\Wr{m115}{m116}\Wr{m116}{m117}\Wr{m117}{m120}
\Wr{m118}{m117}\Wr{m119}{m118}\Wr{m120}{m122}\Wr{m121}{m119}
\Wr{m122}{m123}\Wr{m123}{m124}\Wr{m124}{m128}\Wr{m125}{m126}\Wr{m126}{m127}\Wr{m127}{m129}
\Wr{m128}{m129}\Wr{m129}{m130}\Wr{m130}{m131}\Wr{m131}{m132}\Wr{m132}{m133}\Wr{m133}{m134}
\Wr{m134}{m135}\Wr{m135}{m136}\Wr{m136}{m137}\Wr{m137}{m138}\Wr{m138}{m139}\Wr{m138}{m140}
\Wr{m140}{m141}\Wr{m139}{m177}
\Wr{m141}{m143}\Wr{m142}{m144}\Wr{m141}{m145}\Wr{m142}{m146}\Wr{m143}{m147}\Wr{m144}{m148}
\Wr{m145}{m149}\Wr{m146}{m150}\Wr{m147}{m151}\Wr{m148}{m152}\Wr{m149}{m153}\Wr{m150}{m154}
\Wr{m151}{m159}\Wr{m152}{m160}\Wr{m153}{m161}\Wr{m154}{m162}\Wr{m159}{m167}\Wr{m160}{m168}
\Wr{m161}{m169}\Wr{m162}{m170}\Wr{m167}{m171}\Wr{m170}{m171}\Wr{m171}{m231}\Wr{m163}{m167}\Wr{m166}{m170}
\Wr{m172}{m173}\Wr{m173}{m176}\Wr{m173}{m178}\Wr{m173}{m182}\Wr{m173}{m184}\Wr{m174}{m175}
\Wr{m175}{m176}\Wr{m175}{m177}\Wr{m176}{m179}\Wr{m178}{m180}\Wr{m179}{m187}\Wr{m181}{m187}
\Wr{m183}{m189}\Wr{m184}{m189}\Wr{m186}{m189}\Wr{m187}{m188}\Wr{m189}{m194}\Wr{m190}{m199}
\Wr{m194}{m195}\Wr{m195}{m196}\Wr{m196}{m197}\Wr{m197}{m198}\Wr{m198}{m228}\Wr{m198}{m231}
\Wr{m200}{m193}\Wr{m188}{m228}
\Wr{m201}{m202}\Wr{m205}{m206}\Wr{m206}{m210}\Wr{m207}{m208}\Wr{m208}{m211}\Wr{m210}{m213}
\Wr{m211}{m212}\Wr{m212}{m214}\Wr{m213}{m214}\Wr{m214}{m215}\Wr{m215}{m216}\Wr{m216}{m217}
\Wr{m217}{m218}\Wr{m218}{m219}\Wr{m219}{m220}\Wr{m221}{m222}\Wr{m222}{m223}\Wr{m223}{m224}
\Wr{m220}{m225}\Wr{m228}{m229}\Wr{m229}{m230}\Wr{m230}{m210}\Wr{m231}{m235}\Wr{m233}{m235}
\Wr{m232}{m235}\Wr{m235}{m213}\Wr{m236}{m226}\Wr{m238}{m236}\Wr{m239}{m238}\Wr{m231}{m239}
\Wr{m218}{m221}\Wr{m202}{m205}
% universal pyra
\Wr{u1}{u2}\Wr{u1}{u21}\Wr{u1}{u24}\Wr{u2}{u3}\Wr{u3}{u5}\Wr{u4}{u5}\Wr{u5}{u6}\Wr{u6}{u7}
\Wr{u7}{u8}\Wr{u7}{u13}\Wr{u8}{u9}\Wr{u13}{u14}\Wr{u14}{u15}\Wr{u14}{u16}\Wr{u14}{u17}
\Wr{u16}{u18}\Wr{u15}{u18}\Wr{u17}{u18}\Wr{u18}{u19}\Wr{u19}{u20}\Wr[dwire]{u20}{u46}
\Wr{u20}{u37}\Wr{u20}{u38}\Wr{u20}{u9}\Wr{u9}{u10}\Wr{u10}{u11}\Wr{u11}{u12}\Wr{u12}{u46}
\Wr[dwire]{u9}{u39}\Wr{u12}{u33}\Wr{u46}{u47}\Wr{u47}{u37}\Wr{u47}{u38}\Wr{u47}{u39}
\Wr{u48}{u49}\Wr{u50}{u49}\Wr{u51}{u50}\Wr{u52}{u53}\Wr{u53}{u54}\Wr{u54}{u55}\Wr{u55}{u57}
\Wr{u56}{u57}\Wr{u57}{u58}\Wr{u58}{u60}\Wr{u60}{u61}\Wr{u58}{u62}\Wr{u62}{u45}\Wr{u126}{u52}\Wr{u49}{u53}
\Wr{u21}{u22}\Wr{u22}{u23}\Wr{u23}{u29}\Wr{u24}{u25}\Wr{u25}{u26}\Wr{u26}{u27}\Wr{u27}{u29}
\Wr{u28}{u29}\Wr{u29}{u30}\Wr{u30}{u63}\Wr{u29}{u64}\Wr{u31}{u24}
\Wr{u33}{u34}\Wr{u34}{u35}\Wr{u35}{u36}\Wr{u36}{u43}\Wr{u37}{u38}\Wr{u38}{u39}\Wr{u39}{u40}
\Wr{u40}{u41}\Wr{u41}{u42}\Wr{u42}{u43}\Wr{u43}{u44}\Wr{u44}{u45}\Wr{u45}{u86}\Wr{u45}{u89}
\Wr{u42}{u77}\Wr{u45}{u110}\Wr{u36}{u99}
\Wr{u63}{u64}\Wr{u64}{u65}\Wr{u65}{u66}\Wr{u66}{u67}\Wr{u67}{u68}\Wr{u68}{u70}\Wr{u69}{u71}
\Wr{u70}{u72}\Wr{u71}{u72}\Wr{u72}{u73}\Wr{u72}{u75}\Wr{u70}{u78}\Wr{u70}{u92}\Wr{u70}{u80}
\Wr{u73}{u74}\Wr{u75}{u76}\Wr{u74}{u85}\Wr{u76}{u102}\Wr{u74}{u118}\Wr{u86}{u87}\Wr{u87}{u88}
\Wr{u88}{u78}\Wr{u88}{u96}\Wr{u89}{u90}\Wr{u90}{u100}\Wr{u99}{u100}\Wr{u100}{u101}\Wr{u101}{u111}
\Wr{u101}{u93}\Wr{u91}{u90}\Wr{u77}{u78}\Wr{u78}{u79}\Wr{u79}{u81}\Wr{u80}{u81}\Wr{u81}{u82}
\Wr{u82}{u83}\Wr{u83}{u84}\Wr{u84}{u85}\Wr{u85}{u102}\Wr{u85}{u98}\Wr{u92}{u93}\Wr{u94}{u93}
\Wr{u93}{u96}\Wr{u95}{u96}\Wr{u96}{u97}\Wr{u97}{u115}\Wr{u102}{u103}\Wr{u103}{u104}
\Wr{u105}{u106}\Wr{u106}{u107}\Wr{u107}{u108}\Wr{u109}{u107}\Wr{u110}{u111}\Wr{u111}{u112}
\Wr{u112}{u113}\Wr{u113}{u114}\Wr{u114}{u115}\Wr{u115}{u116}\Wr{u116}{u117}\Wr{u117}{u118}
\Wr{u118}{u109}\Wr{u118}{u106}\Wr{u119}{u120}\Wr{u121}{u120}\Wr{u120}{u122}\Wr{u122}{u123}
\Wr{u123}{u124}\Wr{u124}{u118}\Wr{u101}{u119}\Wr{u76}{u83}\Wr{u97}{u102}\Wr{u114}{u102}
\Wr{u127}{u125}\Wr{u125}{u126}\Wr[dwire]{u127}{u126}\Wr{u127}{u129}\Wr{u128}{u129}\Wr{u129}{u130}
\Wr{u130}{u131}\Wr{u131}{u132}\Wr{u132}{u133}\Wr{u133}{u134}\Wr{u135}{u136}\Wr{u136}{u137}
\Wr{u137}{u134}\Wr{u134}{u159}\Wr{u134}{u161}\Wr{u134}{u166}\Wr{u134}{u168}\Wr{u134}{u185}
\Wr{u126}{u138}\Wr{u138}{u139}\Wr{u139}{u141}\Wr{u140}{u141}\Wr{u141}{u147}\Wr{u142}{u143}
\Wr{u143}{u147}\Wr{u144}{u145}\Wr{u145}{u146}\Wr{u146}{u148}\Wr{u147}{u149}\Wr{u148}{u149}
\Wr{u149}{u150}\Wr{u150}{u151}\Wr{u151}{u152}\Wr{u152}{u153}\Wr{u153}{u154}\Wr{u154}{u155}
\Wr{u155}{u161}\Wr{u156}{u158}\Wr{u157}{u158}\Wr{u158}{u159}\Wr{u159}{u160}\Wr{u161}{u162}
\Wr{u162}{u163}\Wr{u163}{u164}\Wr{u164}{u166}\Wr{u165}{u166}\Wr{u167}{u166}\Wr{u166}{u168}
\Wr{u168}{u169}\Wr{u168}{u172}\Wr{u160}{u185}\Wr{u160}{u195}\Wr{u160}{u214}\Wr{u160}{u219}\Wr{u134}{u222}
\Wr{u169}{u170}\Wr{u172}{u174}\Wr{u173}{u175}\Wr{u174}{u171}\Wr{u175}{u176}\Wr{u176}{u177}
\Wr{u177}{u178}\Wr{u178}{u179}\Wr{u170}{u179}\Wr{u171}{u179}\Wr{u179}{u182}\Wr{u180}{u178}
\Wr{u181}{u182}\Wr{u182}{u184}\Wr{u184}{u210}\Wr{u168}{u173}
\Wr{u185}{u186}\Wr{u186}{u187}\Wr{u187}{u188}\Wr{u188}{u190}\Wr{u189}{u190}\Wr{u190}{u191}
\Wr{u191}{u194}\Wr{u192}{u194}\Wr{u193}{u192}\Wr{u195}{u188}\Wr{u196}{u189}\Wr{u194}{u197}\Wr{u194}{u224}
\Wr{u197}{u201}\Wr{u198}{u199}\Wr{u199}{u203}\Wr{u200}{u203}\Wr{u201}{u202}\Wr{u203}{u204}
\Wr{u204}{u205}\Wr{u182}{u198}
\Wr{u205}{u206}\Wr{u206}{u207}\Wr{u207}{u208}\Wr{u208}{u209}\Wr{u209}{u213}\Wr{u210}{u211}
\Wr{u211}{u211b}\Wr{u211b}{u212}\Wr{u213}{u224}\Wr{u213}{u216}\Wr{u216}{u224}\Wr{u206}{u217}
\Wr{u217}{u218}\Wr{u218}{u224}\Wr{u208}{u219}\Wr{u219}{u220}\Wr{u220}{u221}\Wr{u221}{u222}
\Wr{u222}{u223}\Wr{u223}{u224}\Wr{u211b}{u224}\Wr{u214}{u215}\Wr{u215}{u216}\Wr{u224}{u225}
\Wr{u225}{u226}\Wr{u226}{u227}\Wr{u226}{u230}\Wr{u227}{u228}\Wr{u228}{u229}\Wr{u229}{u230}
\Wr{u230}{u236}\Wr{u232}{u234}\Wr{u233}{u235}\Wr{u234}{u228}\Wr{u235}{u228}\Wr{u226}{u238}
\Wr{u236}{u240}\Wr{u237}{u236}\Wr{u238}{u239}\Wr{u239}{u240}\Wr{u240}{u251}\Wr{u240}{u241}
\Wr{u241}{u242}\Wr{u242}{u244}\Wr{u243}{u244}\Wr{u244}{u245}\Wr{u245}{u246}\Wr{u247}{u245}
\Wr[dwire]{u248}{u252}\Wr[dwire]{u249}{u252}\Wr{u246}{u252}\Wr{u250}{u252}\Wr{u251}{u252}
\Wr{u252}{u253}\Wr{u250}{u251}
\Wp{u248.east}{u252.170}\Wp{u248.east}{u252.175}\Wp{u249.east}{u252.185}
\Wp{u249.east}{u252.190}\Wp{u249.east}{u252.195}
% model substitution
\Wr{s2}{s3}\Wr{s3}{s4}\Wr{s4}{s5}\Wr{s5}{s6}\Wr{s6}{s7}\Wr{s7}{s8}\Wr{s8}{s9}\Wr{s10}{s8}
\Wr{s3}{s1}\Wr{s9}{s11}\Wr{s9}{s25}\Wr{s9}{s34}
\Wr{s11}{s12}\Wr{s12}{s13}\Wr{s13}{s14}\Wr{s14}{s15}\Wr{s15}{s16}\Wr{s16}{s17}\Wr{s17}{s18}
\Wr{s18}{s19}\Wr{s19}{s20}\Wr{s21}{s14}\Wr{s20}{s22}\Wr{s20}{s23}\Wr{s20}{s34}\Wr{s22}{s24}
\Wr{s23}{s24}\Wr{s24}{s106}\Wr{s20}{s109}\Wr{s20}{s121}\Wr{s22}{s109}
\Wr{s25}{s26}\Wr{s26}{s27}\Wr{s27}{s28}\Wr{s28}{s29}\Wr{s29}{s30}\Wr{s29}{s31}\Wr{s30}{s32}
\Wr{s31}{s33}\Wr{s32}{s35}\Wr{s33}{s54}\Wr{s32}{s124}
\Wr{s104}{s66}\Wr{s104}{s67}\Wr{s104}{s85}\Wr{s104}{s86}\Wr{s104}{s32}\Wr{s104}{s54}
\Wr{s34}{s37}\Wr{s35}{s38}\Wr{s36}{s39}\Wr{s37}{s38}\Wr{s38}{s40}\Wr{s39}{s41}\Wr{s40}{s41}
\Wr{s41}{s42}\Wr{s42}{s43}\Wr{s43}{s44}\Wr{s44}{s45}\Wr{s45}{s46}\Wr{s46}{s47}\Wr{s47}{s48}
\Wr{s49}{s48}\Wr{s48}{s50}\Wr{s50}{s121}\Wr{s50}{s132}\Wr{s50}{s142}\Wr{s43}{s109}
\Wr{s48}{s135}\Wr{s48}{s145}
\Wr{s51}{s52}\Wr{s52}{s53}\Wr{s54}{s56}\Wr{s55}{s56}\Wr{s53}{s57}\Wr{s56}{s57}\Wr{s57}{s58}
\Wr{s58}{s59}\Wr{s59}{s60}\Wr{s60}{s61}\Wr{s61}{s62}\Wr{s62}{s63}\Wr{s63}{s64}\Wr{s64}{s65}
\Wr[dwire]{s65}{s146}\Wr{s65}{s145}\Wr[dwire]{s146}{s142}
\Wr{s66}{s67}\Wr{s67}{s68}\Wr{s68}{s69}\Wr{s69}{s70}\Wr{s70}{s71}\Wr{s71}{s72}\Wr{s72}{s73}
\Wr{s72}{s74}\Wr{s73}{s75}\Wr{s74}{s75}\Wr{s75}{s76}\Wr{s76}{s77}\Wr{s77}{s78}\Wr{s78}{s79}
\Wr{s79}{s80}\Wr{s80}{s81}\Wr{s81}{s82}\Wr{s83}{s67}\Wr{s84}{s67}\Wr{s82}{s161}
\Wr{s85}{s87}\Wr{s86}{s87}\Wr{s87}{s88}\Wr{s88}{s89}\Wr{s89}{s90}\Wr{s90}{s91}\Wr{s91}{s92}
\Wr{s92}{s93}\Wr{s92}{s94}\Wr{s93}{s95}\Wr{s94}{s95}\Wr{s95}{s96}\Wr{s96}{s97}\Wr{s97}{s98}
\Wr{s98}{s99}\Wr{s99}{s100}\Wr{s100}{s101}\Wr{s101}{s102}\Wr{s103}{s87}\Wr{s102}{s162}
\Wr{s161}{s155}\Wr{s157}{s159}\Wr{s156}{s159}\Wr{s158}{s159}\Wr{s159}{s160}\Wr{s160}{s168}
\Wr{s160}{s180}\Wr{s162}{s163}\Wr{s163}{s155}
\Wr{s150}{s151}\Wr{s151}{s152}\Wr{s151}{s153}\Wr{s154}{s151}\Wr{s153}{s164}\Wr{s82}{s154}
\Wr{s164}{s170}\Wr{s168}{s170}\Wr{s169}{s171}\Wr{s170}{s172}\Wr{s171}{s172}\Wr{s172}{s173}
\Wr{s173}{s174}\Wr{s165}{s167}\Wr{s166}{s167}\Wr{s174}{s167}\Wr{s175}{s174}\Wr{s167}{s176}
\Wr{s167}{s178}\Wr{s177}{s176}\Wr{s176}{s178}
\Wr{s180}{s181}\Wr{s181}{s182}\Wr{s182}{s183}\Wr{s183}{s185}\Wr{s184}{s187}\Wr{s185}{s186}
\Wr{s187}{s188}\Wr{s186}{s189}\Wr{s188}{s189}\Wr{s190}{s183}\Wr{s191}{s184}\Wr{s189}{s177}
\Wr{s106}{s107}\Wr{s107}{s108}\Wr{s108}{s111}\Wr{s109}{s110}\Wr{s111}{s112}\Wr{s112}{s113}
\Wr{s113}{s114}\Wr{s114}{s115}\Wr{s115}{s116}\Wr{s116}{s117}\Wr{s117}{s118}\Wr{s118}{s119}
\Wr{s119}{s120}\Wr{s105}{s115}\Wr{s105}{s108}\Wr{s121}{s122}\Wr{s122}{s123}\Wr{s124}{s125}
\Wr{s125}{s126}\Wr{s123}{s127}\Wr{s127}{s128}\Wr{s128}{s113}\Wr{s129}{s130}\Wr{s130}{s131}
\Wr{s131}{s118}\Wr{s132}{s133}\Wr{s133}{s134}\Wr{s135}{s136}\Wr{s134}{s137}\Wr{s137}{s138}
\Wr{s138}{s139}\Wr{s139}{s140}\Wr{s140}{s141}\Wr{s141}{s130}\Wr{s142}{s143}\Wr{s143}{s144}
\Wr{s145}{s147}\Wr{s144}{s148}\Wr{s148}{s149}\Wr{s149}{s139}\Wr{s139}{s129}
\end{pgfonlayer}
\end{tikzpicture}
\end{document}
